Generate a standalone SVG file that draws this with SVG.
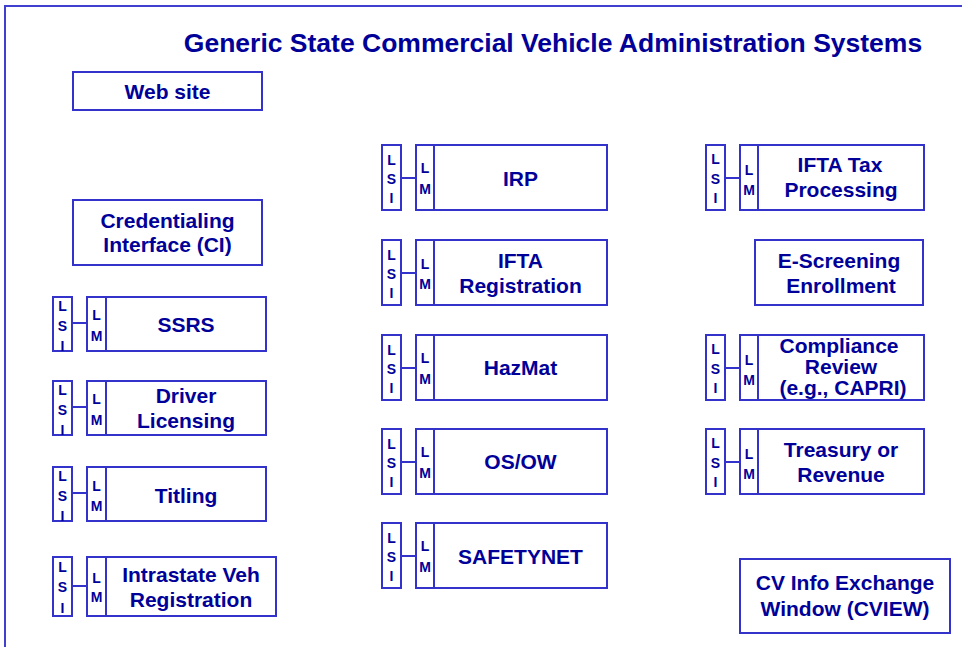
<svg xmlns="http://www.w3.org/2000/svg" width="962" height="647" viewBox="0 0 962 647">
<style>
.bx{fill:#fff;stroke:#3333CC;stroke-width:2}
.fr{fill:none;stroke:#3F3FD0;stroke-width:2}
.ln{stroke:#3333CC;stroke-width:2;fill:none}
.t{font-family:"Liberation Sans",Arial,sans-serif;font-weight:bold;fill:#000099;text-anchor:middle}
.b{font-size:21px}
.s{font-size:14px}
.h{font-size:26.5px}
</style>
<rect width="962" height="647" fill="#fff"/>
<path class="fr" d="M5 647 V6 H962"/>
<text class="t h" x="553" y="52">Generic State Commercial Vehicle Administration Systems</text>

<g id="web-site">
<rect class="bx" x="73" y="72" width="189" height="38"/>
<text class="t b" x="167.5" y="99">Web site</text>
</g>
<g id="credentialing-interface">
<rect class="bx" x="73" y="200" width="189" height="65"/>
<text class="t b" x="167.5" y="228">Credentialing</text>
<text class="t b" x="167.5" y="252">Interface (CI)</text>
</g>

<g id="ssrs">
<rect class="bx" x="53" y="297" width="19" height="54"/>
<text class="t s" x="62.5" y="311">L</text><text class="t s" x="62.5" y="331">S</text><text class="t s" x="62.5" y="351">I</text>
<rect class="bx" x="87" y="297" width="19" height="54"/>
<text class="t s" x="96.5" y="320">L</text><text class="t s" x="96.5" y="341">M</text>
<rect class="bx" x="106" y="297" width="160" height="54"/>
<text class="t b" x="186" y="332">SSRS</text>
</g>
<g id="driver-licensing">
<rect class="bx" x="53" y="381" width="19" height="54"/>
<text class="t s" x="62.5" y="395">L</text><text class="t s" x="62.5" y="415">S</text><text class="t s" x="62.5" y="435">I</text>
<rect class="bx" x="87" y="381" width="19" height="54"/>
<text class="t s" x="96.5" y="404">L</text><text class="t s" x="96.5" y="425">M</text>
<rect class="bx" x="106" y="381" width="160" height="54"/>
<text class="t b" x="186" y="403">Driver</text>
<text class="t b" x="186" y="428">Licensing</text>
</g>
<g id="titling">
<rect class="bx" x="53" y="467" width="19" height="54"/>
<text class="t s" x="62.5" y="481">L</text><text class="t s" x="62.5" y="501">S</text><text class="t s" x="62.5" y="521">I</text>
<rect class="bx" x="87" y="467" width="19" height="54"/>
<text class="t s" x="96.5" y="491">L</text><text class="t s" x="96.5" y="511">M</text>
<rect class="bx" x="106" y="467" width="160" height="54"/>
<text class="t b" x="186" y="503">Titling</text>
</g>
<g id="intrastate-veh-registration">
<rect class="bx" x="53" y="557" width="19" height="59"/>
<text class="t s" x="62.5" y="572">L</text><text class="t s" x="62.5" y="592">S</text><text class="t s" x="62.5" y="613">I</text>
<rect class="bx" x="87" y="557" width="19" height="59"/>
<text class="t s" x="96.5" y="583">L</text><text class="t s" x="96.5" y="602">M</text>
<rect class="bx" x="106" y="557" width="170" height="59"/>
<text class="t b" x="191" y="582">Intrastate Veh</text>
<text class="t b" x="191" y="607">Registration</text>
</g>

<g id="irp">
<rect class="bx" x="382" y="145" width="19" height="65"/>
<text class="t s" x="391.5" y="165">L</text><text class="t s" x="391.5" y="184">S</text><text class="t s" x="391.5" y="203">I</text>
<rect class="bx" x="416" y="145" width="18" height="65"/>
<text class="t s" x="425" y="173">L</text><text class="t s" x="425" y="194">M</text>
<rect class="bx" x="434" y="145" width="173" height="65"/>
<text class="t b" x="520.5" y="186">IRP</text>
</g>
<g id="ifta-registration">
<rect class="bx" x="382" y="240" width="19" height="65"/>
<text class="t s" x="391.5" y="260">L</text><text class="t s" x="391.5" y="279">S</text><text class="t s" x="391.5" y="298">I</text>
<rect class="bx" x="416" y="240" width="18" height="65"/>
<text class="t s" x="425" y="269">L</text><text class="t s" x="425" y="289">M</text>
<rect class="bx" x="434" y="240" width="173" height="65"/>
<text class="t b" x="520.5" y="268">IFTA</text>
<text class="t b" x="520.5" y="293">Registration</text>
</g>
<g id="hazmat">
<rect class="bx" x="382" y="335" width="19" height="65"/>
<text class="t s" x="391.5" y="355">L</text><text class="t s" x="391.5" y="374">S</text><text class="t s" x="391.5" y="393">I</text>
<rect class="bx" x="416" y="335" width="18" height="65"/>
<text class="t s" x="425" y="363">L</text><text class="t s" x="425" y="384">M</text>
<rect class="bx" x="434" y="335" width="173" height="65"/>
<text class="t b" x="520.5" y="375">HazMat</text>
</g>
<g id="os-ow">
<rect class="bx" x="382" y="429" width="19" height="65"/>
<text class="t s" x="391.5" y="449">L</text><text class="t s" x="391.5" y="468">S</text><text class="t s" x="391.5" y="487">I</text>
<rect class="bx" x="416" y="429" width="18" height="65"/>
<text class="t s" x="425" y="457">L</text><text class="t s" x="425" y="478">M</text>
<rect class="bx" x="434" y="429" width="173" height="65"/>
<text class="t b" x="520.5" y="469">OS/OW</text>
</g>
<g id="safetynet">
<rect class="bx" x="382" y="523" width="19" height="65"/>
<text class="t s" x="391.5" y="543">L</text><text class="t s" x="391.5" y="562">S</text><text class="t s" x="391.5" y="581">I</text>
<rect class="bx" x="416" y="523" width="18" height="65"/>
<text class="t s" x="425" y="551">L</text><text class="t s" x="425" y="572">M</text>
<rect class="bx" x="434" y="523" width="173" height="65"/>
<text class="t b" x="520.5" y="564">SAFETYNET</text>
</g>

<g id="ifta-tax-processing">
<rect class="bx" x="706" y="145" width="19" height="65"/>
<text class="t s" x="715.5" y="164">L</text><text class="t s" x="715.5" y="184">S</text><text class="t s" x="715.5" y="203">I</text>
<rect class="bx" x="740" y="145" width="18" height="65"/>
<text class="t s" x="749" y="175">L</text><text class="t s" x="749" y="195">M</text>
<rect class="bx" x="758" y="145" width="166" height="65"/>
<text class="t b" x="840" y="172">IFTA Tax</text>
<text class="t b" x="841" y="197">Processing</text>
</g>
<g id="e-screening-enrollment">
<rect class="bx" x="755" y="240" width="168" height="65"/>
<text class="t b" x="839" y="268">E-Screening</text>
<text class="t b" x="841" y="293">Enrollment</text>
</g>
<g id="compliance-review">
<rect class="bx" x="706" y="335" width="19" height="65"/>
<text class="t s" x="715.5" y="354">L</text><text class="t s" x="715.5" y="374">S</text><text class="t s" x="715.5" y="393">I</text>
<rect class="bx" x="740" y="335" width="18" height="65"/>
<text class="t s" x="749" y="365">L</text><text class="t s" x="749" y="385">M</text>
<rect class="bx" x="758" y="335" width="166" height="65"/>
<text class="t b" x="839" y="353">Compliance</text>
<text class="t b" x="841" y="374">Review</text>
<text class="t b" x="843" y="395">(e.g., CAPRI)</text>
</g>
<g id="treasury-or-revenue">
<rect class="bx" x="706" y="429" width="19" height="65"/>
<text class="t s" x="715.5" y="448">L</text><text class="t s" x="715.5" y="468">S</text><text class="t s" x="715.5" y="487">I</text>
<rect class="bx" x="740" y="429" width="18" height="65"/>
<text class="t s" x="749" y="459">L</text><text class="t s" x="749" y="479">M</text>
<rect class="bx" x="758" y="429" width="166" height="65"/>
<text class="t b" x="841" y="457">Treasury or</text>
<text class="t b" x="841" y="482">Revenue</text>
</g>
<g id="cview">
<rect class="bx" x="740" y="559" width="210" height="74"/>
<text class="t b" x="845" y="590">CV Info Exchange</text>
<text class="t b" x="845" y="616">Window (CVIEW)</text>
</g>

<g id="connectors">
<path class="ln" d="M72 323H87 M72 407H87 M72 493H87 M72 586H87"/>
<path class="ln" d="M401 178H416 M401 273H416 M401 368H416 M401 462H416 M401 556H416"/>
<path class="ln" d="M725 178H740 M725 368H740 M725 462H740"/>
</g>
</svg>
